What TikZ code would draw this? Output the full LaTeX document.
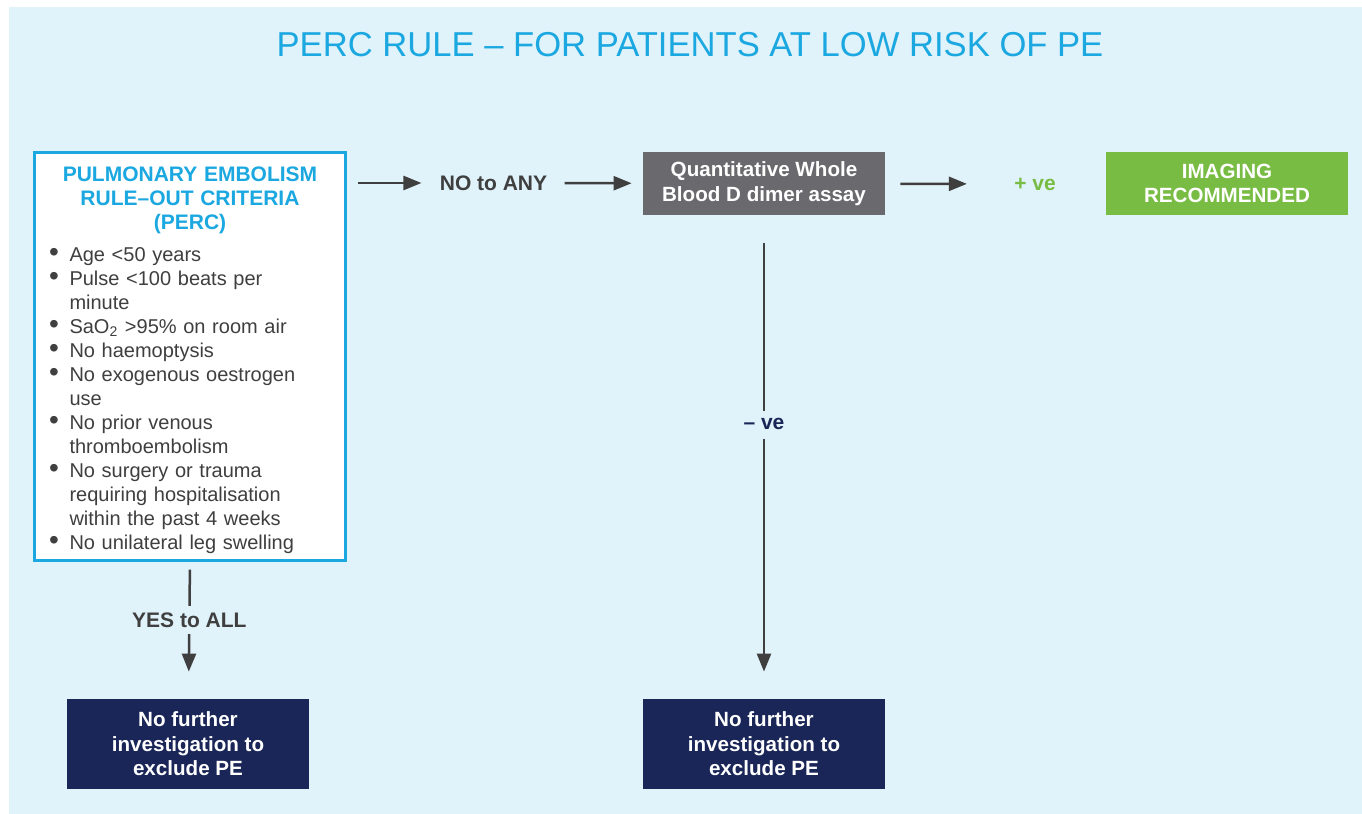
\documentclass[tikz,border=0pt]{standalone}
\usepackage{fontspec}
\setmainfont{Liberation Sans}
\usepackage{xcolor}
\usepackage{graphicx}
\usetikzlibrary{arrows.meta,positioning}

\definecolor{bgblue}{HTML}{E0F2FA}
\definecolor{percblue}{HTML}{1BA8E0}
\definecolor{txtgrey}{HTML}{3F3F3F}
\definecolor{boxgrey}{HTML}{6A6A6E}
\definecolor{imggreen}{HTML}{78BC43}
\definecolor{navy}{HTML}{1A2657}

% one bullet of the criteria list
\newcommand\percitem[1]{\par\hangindent=11pt\hangafter=1\noindent\makebox[11pt][l]{\hspace{0.8pt}\scalebox{1.4}{\textbullet}}#1}

\tikzset{
  arr/.style={draw=txtgrey, line width=1.25pt, -{Triangle[length=9pt,width=7pt]}},
  lbl/.style={inner sep=0pt, text=txtgrey, font=\bfseries\fontsize{10.5}{12}\selectfont},
  solidbox/.style={minimum width=121pt, minimum height=31.5pt, inner sep=0pt, align=center,
    text=white, font=\bfseries\fontsize{10.3}{12.2}\selectfont},
  endbox/.style={solidbox, fill=navy, minimum height=45pt},
}

\begin{document}
\begin{tikzpicture}[x=0.5pt, y=-0.5pt]
  \useasboundingbox (0,0) rectangle (1362,814);
  \fill[white] (0,0) rectangle (1362,814);
  \fill[bgblue] (9,7) rectangle (1362,814);

  \node[text=percblue, font=\fontsize{17.3}{20}\selectfont] (title) at (690,45)
    {PERC RULE – FOR PATIENTS AT LOW RISK OF PE};

  % criteria box
  \node[draw=percblue, fill=white, line width=1.5pt, anchor=north west,
        inner xsep=6.5pt, inner ysep=7pt, text width=142.5pt, text=txtgrey,
        font=\fontsize{10}{12}\selectfont] (perc) at (33,151) {%
    {\centering\bfseries\fontsize{10.5}{12.2}\selectfont\color{percblue}PULMONARY EMBOLISM\\RULE–OUT CRITERIA\\(PERC)\par}
    \vspace{4pt}\raggedright\rightskip=6.5pt plus 1fil
    \percitem{Age <50 years}
    \percitem{Pulse <100 beats per minute}
    \percitem{SaO\textsubscript{2} >95\% on room air}
    \percitem{No haemoptysis}
    \percitem{No exogenous oestrogen use}
    \percitem{No prior venous thromboembolism}
    \percitem{No surgery or trauma requiring hospitalisation within the past 4 weeks}
    \percitem{No unilateral leg swelling}\par
    \vspace{-4pt}};

  \node[lbl] (noany) at (493.5,183) {NO to ANY};
  \node[solidbox, fill=boxgrey] (dimer) at (764,183.5) {Quantitative Whole\\Blood D dimer assay};
  \node[lbl, text=imggreen] (posve) at (1035,184) {+ ve};
  \node[solidbox, fill=imggreen] (imaging) at (1227,183.5) {IMAGING\\RECOMMENDED};

  \node[endbox] (nofurtherA) at (188,744) {No further\\investigation to\\exclude PE};
  \node[endbox] (nofurtherB) at (764,744) {No further\\investigation to\\exclude PE};

  \draw[arr, shorten <=5.5pt, shorten >=9pt] (perc.east |- noany) -- (noany);
  \draw[arr, shorten <=8.5pt, shorten >=5.5pt] (noany) -- (dimer);
  \draw[arr, shorten <=7.5pt, shorten >=23.5pt] (dimer) -- (posve);

  \draw[arr, shorten <=14pt, shorten >=13.5pt] (dimer) --
    node[lbl, text=navy, fill=bgblue, text height=5.2pt, text depth=0pt, inner ysep=4.4pt, pos=0.433] (negve) {– ve} (nofurtherB);
  \draw[arr, shorten <=4pt, shorten >=13.5pt] (perc.south) --
    node[lbl, fill=bgblue, text height=7.5pt, text depth=0pt, inner ysep=3.25pt, pos=0.423] (yesall) {YES to ALL} (nofurtherA);
\end{tikzpicture}
\end{document}
